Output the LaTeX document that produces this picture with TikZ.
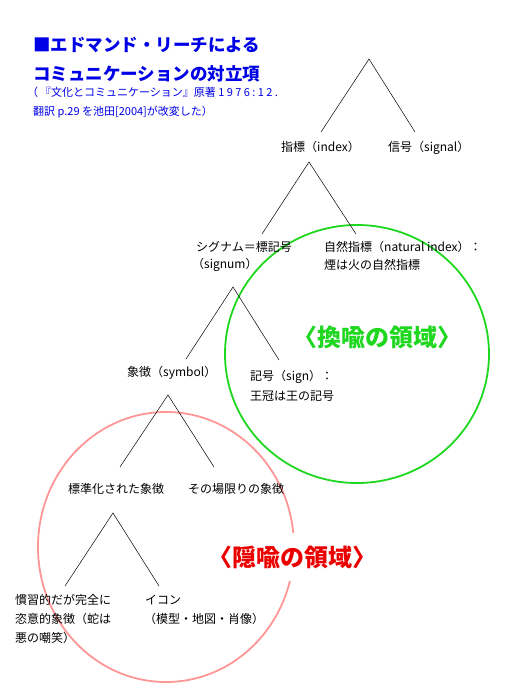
\documentclass[tikz,border=0pt]{standalone}
\usepackage{fontspec}
\setmainfont{Noto Sans CJK JP}
\usetikzlibrary{shapes.geometric}
\definecolor{titleblue}{RGB}{0,0,230}
\definecolor{metgreen}{RGB}{30,215,30}
\definecolor{metpink}{RGB}{255,150,150}
\definecolor{metred}{RGB}{235,0,0}
\begin{document}
\begin{tikzpicture}[x=1pt,y=-1pt,
  lbl/.style={anchor=west,inner sep=0pt,font=\fontsize{12}{14}\selectfont},
  ttl/.style={anchor=west,inner sep=0pt,text=titleblue,font=\fontsize{17.5}{20}\selectfont\bfseries},
  sub/.style={anchor=west,inner sep=0pt,text=titleblue,font=\fontsize{11}{13}\selectfont},
  leg/.style={draw=black,line width=0.5pt},
  zone/.style={ellipse,inner sep=0pt,line width=1.8pt},
  zonelbl/.style={inner xsep=0pt,inner ysep=13pt,font=\fontsize{24}{26}\selectfont\bfseries}]
\useasboundingbox (0,0) rectangle (530,691);

% zones
\node[zone,draw=metgreen,minimum width=264pt,minimum height=258pt] (metonymy) at (357,354) {};
\node[zone,draw=metpink,minimum width=256pt,minimum height=270pt] (metaphor) at (166,547) {};
\node[zonelbl,text=metgreen] (metonymylbl) at (377,337) {〈換喩の領域〉};
\node[zonelbl,text=metred,fill=white] (metaphorlbl) at (292,557) {〈隠喩の領域〉};

% title
\node[ttl] (title1) at (33,45) {■エドマンド・リーチによる};
\node[ttl] (title2) at (33,73.5) {コミュニケーションの対立項};
\node[sub] (sub1) at (27,92) {（\,『文化とコミュニケーション』原著\ {\addfontfeature{LetterSpace=22}1976:12.}};
\node[sub] (sub2) at (33,112) {翻訳 p.29 を池田[2004]が改変した）};

% labels
\node[lbl] (index) at (281,147) {指標（index）};
\node[lbl] (signal) at (388,148) {信号（signal）};
\node[lbl] (signum) at (196,247) {シグナム＝標記号};
\node[lbl] (signum2) at (192,265) {（signum）};
\node[lbl] (natural) at (324,247) {自然指標（natural index）：};
\node[lbl] (natural2) at (324,265) {煙は火の自然指標};
\node[lbl] (symbol) at (127,373) {象徴（symbol）};
\node[lbl] (sign) at (250,377) {記号（sign）：};
\node[lbl] (sign2) at (250,396) {王冠は王の記号};
\node[lbl] (standard) at (68,489) {標準化された象徴};
\node[lbl] (adhoc) at (188,489) {その場限りの象徴};
\node[lbl] (conv) at (15,600) {慣習的だが完全に};
\node[lbl] (conv2) at (15,619) {恣意的象徴（蛇は};
\node[lbl] (conv3) at (15,638) {悪の嘲笑）};
\node[lbl] (icon) at (145,600) {イコン};
\node[lbl] (icon2) at (144,619) {（模型・地図・肖像）};

% tree coordinates
\coordinate (a1) at (369,59);  \coordinate (l1) at (321,132); \coordinate (r1) at (415,132);
\coordinate (a2) at (309,162); \coordinate (l2) at (262,234); \coordinate (r2) at (356,234);
\coordinate (a3) at (233,287); \coordinate (l3) at (186,359); \coordinate (r3) at (279,360);
\coordinate (a4) at (168,395); \coordinate (l4) at (120,467); \coordinate (r4) at (214,467);
\coordinate (a5) at (113,513); \coordinate (l5) at (65,586);  \coordinate (r5) at (159,586);

\draw[leg] (l1) -- (a1) -- (r1);
\draw[leg] (l2) -- (a2) -- (r2);
\draw[leg] (l3) -- (a3) -- (r3);
\draw[leg] (l4) -- (a4) -- (r4);
\draw[leg] (l5) -- (a5) -- (r5);
\end{tikzpicture}
\end{document}
